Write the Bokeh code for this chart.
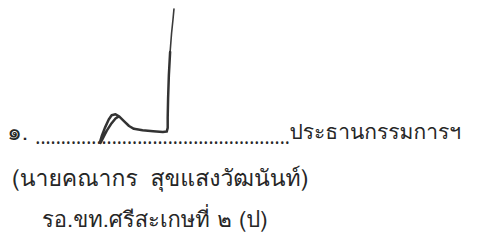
from bokeh.plotting import figure
from bokeh.models import Range1d
from bokeh.embed import file_html
from bokeh.resources import INLINE
from bokeh.core.properties import value

# Text lines of the signature block (positions in reference pixels)
num_text = "๑."
num_x, num_y = 7, 140
title_text = "ประธานกรรมการฯ"
title_x, title_y = 299, 140
name_text = "(นายคณากร\u00a0\u00a0สุขแสงวัฒนันท์)"
name_x, name_y = 12, 190
office_text = "รอ.ขท.ศรีสะเกษที่ ๒ (ป)"
office_x, office_y = 43, 234

dot_count = 50
dot_x = 36
dot_y = 146

# Handwritten signature stroke (reference pixels)
sig_top_x = [179.5, 178.5, 177, 175.5]
sig_top_y = [9, 20, 35, 55]
sig_x = [175.5, 174.2, 173.4, 173, 173, 172, 168, 158, 147, 138, 133, 128, 123, 119, 115, 112, 108, 105, 103, 103.5, 106, 110, 115, 119, 122]
sig_y = [55, 80, 105, 125, 136, 140, 140.5, 139.5, 138.5, 137, 134, 129, 124, 121.5, 122.5, 127, 136, 144, 151, 152, 147, 139, 131, 126, 124]

p = figure(width=461, height=236, output_backend="svg", toolbar_location=None,
           x_range=Range1d(0, 477), y_range=Range1d(252, 0),
           min_border=0, outline_line_color=None)
p.axis.visible = False
p.grid.visible = False
p.background_fill_color = "white"
p.border_fill_color = "white"

ink = "#262626"
font = value("Loma")
common = dict(text_font=font, text_color=ink, text_baseline="alphabetic", text_align="left")

p.text(x=[num_x], y=[num_y], text=[num_text], text_font_size="23px", **common)
p.text(x=[title_x], y=[title_y], text=[title_text], text_font_size="21px", **common)
p.text(x=[name_x], y=[name_y], text=[name_text], text_font_size="23px", **common)
p.text(x=[office_x], y=[office_y], text=[office_text], text_font_size="22px", **common)
p.text(x=[dot_x], y=[dot_y], text=["." * dot_count], text_font=value("Noto Sans"), text_font_size="19px",
       text_color=ink, text_baseline="alphabetic", text_align="left")

p.line(sig_top_x, sig_top_y, line_color="#3a3a3a", line_width=1.6, line_cap="round")
p.line(sig_x, sig_y, line_color="#333333", line_width=2.5, line_cap="round", line_join="round")

open("out.html", "w").write(file_html(p, INLINE))
